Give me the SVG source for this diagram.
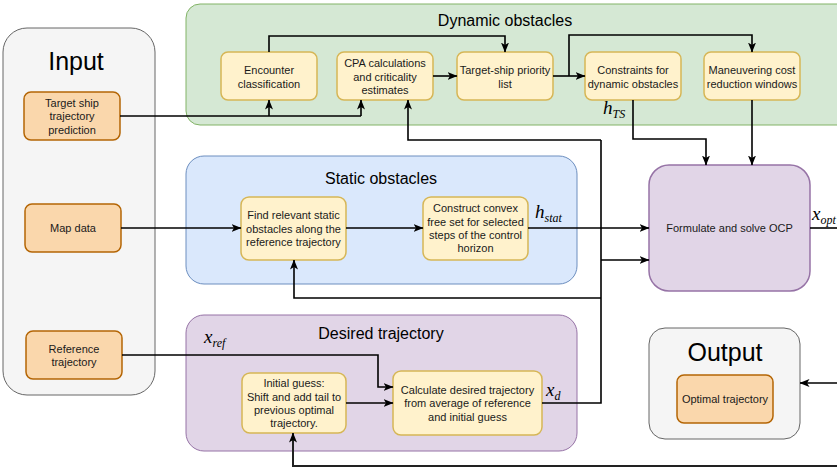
<svg xmlns="http://www.w3.org/2000/svg" width="837" height="470" viewBox="0 0 837 470">
  <defs>
    <style>
      .lbl { font-family: "Liberation Sans", Arial, sans-serif; font-size: 11px; fill: #1a1a1a; text-anchor: middle; dominant-baseline: central; }
      .title { font-family: "Liberation Sans", Arial, sans-serif; font-size: 16px; fill: #000; text-anchor: middle; dominant-baseline: central; }
      .big { font-family: "Liberation Sans", Arial, sans-serif; font-size: 25px; fill: #000; text-anchor: middle; dominant-baseline: central; }
      .math { font-family: "Liberation Serif", "DejaVu Serif", serif; font-style: italic; font-size: 19px; fill: #000; }
      .sub { font-size: 12px; }
      .proc { fill: #fff2cc; stroke: #d6b656; stroke-width: 1.5; }
      .io { fill: #fad7ac; stroke: #b46504; stroke-width: 1.5; }
      .wire { fill: none; stroke: #000; stroke-width: 1.6; }
      .arrow { fill: none; stroke: #000; stroke-width: 1.6; marker-end: url(#head); }
    </style>
    <marker id="head" viewBox="0 0 10 10" refX="9.5" refY="5" markerWidth="10" markerHeight="10" markerUnits="userSpaceOnUse" orient="auto">
      <path d="M0,1 L10,5 L0,9 L2.5,5 z" fill="#000"/>
    </marker>
  </defs>

  <!-- containers -->
  <g id="input">
    <rect x="3" y="28" width="152" height="367" rx="24" fill="#f5f5f5" stroke="#666" stroke-width="1"/>
    <text class="big" x="76" y="61">Input</text>
  </g>
  <g id="dynamic-obstacles">
    <rect x="186" y="4" width="668" height="121" rx="14" fill="#d5e8d4" stroke="#82b366" stroke-width="1"/>
    <text class="title" x="505" y="20">Dynamic obstacles</text>
  </g>
  <g id="static-obstacles">
    <rect x="186" y="156" width="391" height="128" rx="18" fill="#dae8fc" stroke="#6c8ebf" stroke-width="1"/>
    <text class="title" x="381" y="178">Static obstacles</text>
  </g>
  <g id="desired-trajectory">
    <rect x="186" y="315" width="391" height="136" rx="18" fill="#e1d5e7" stroke="#9673a6" stroke-width="1"/>
    <text class="title" x="381" y="333">Desired trajectory</text>
  </g>
  <g id="output">
    <rect x="649" y="328" width="151" height="111" rx="16" fill="#f5f5f5" stroke="#666" stroke-width="1"/>
    <text class="big" x="725" y="352">Output</text>
  </g>

  <!-- input nodes -->
  <g id="target-ship-prediction">
    <rect class="io" x="24" y="92" width="96" height="48" rx="7"/>
    <text class="lbl" x="72" y="103">Target ship</text>
    <text class="lbl" x="72" y="116">trajectory</text>
    <text class="lbl" x="72" y="130">prediction</text>
  </g>
  <g id="map-data">
    <rect class="io" x="25" y="204" width="96" height="48" rx="7"/>
    <text class="lbl" x="73" y="228">Map data</text>
  </g>
  <g id="reference-trajectory">
    <rect class="io" x="26" y="331" width="96" height="48" rx="7"/>
    <text class="lbl" x="74" y="349">Reference</text>
    <text class="lbl" x="74" y="362">trajectory</text>
  </g>

  <!-- dynamic obstacle nodes -->
  <g id="encounter-classification">
    <rect class="proc" x="221" y="52" width="96" height="48" rx="7"/>
    <text class="lbl" x="269" y="70">Encounter</text>
    <text class="lbl" x="269" y="84">classification</text>
  </g>
  <g id="cpa">
    <rect class="proc" x="337" y="52" width="96" height="48" rx="7"/>
    <text class="lbl" x="385" y="63">CPA calculations</text>
    <text class="lbl" x="385" y="77">and criticality</text>
    <text class="lbl" x="385" y="90">estimates</text>
  </g>
  <g id="priority-list">
    <rect class="proc" x="457" y="52" width="96" height="48" rx="7"/>
    <text class="lbl" x="505" y="70">Target-ship priority</text>
    <text class="lbl" x="505" y="84">list</text>
  </g>
  <g id="dynamic-constraints">
    <rect class="proc" x="585" y="52" width="96" height="48" rx="7"/>
    <text class="lbl" x="633" y="70">Constraints for</text>
    <text class="lbl" x="633" y="84">dynamic obstacles</text>
  </g>
  <g id="cost-windows">
    <rect class="proc" x="704" y="52" width="96" height="48" rx="7"/>
    <text class="lbl" x="752" y="70">Maneuvering cost</text>
    <text class="lbl" x="752" y="84">reduction windows</text>
  </g>

  <!-- static obstacle nodes -->
  <g id="find-static">
    <rect class="proc" x="241" y="197" width="105" height="63" rx="8"/>
    <text class="lbl" x="293.5" y="215">Find relevant static</text>
    <text class="lbl" x="293.5" y="229">obstacles along the</text>
    <text class="lbl" x="293.5" y="242">reference trajectory</text>
  </g>
  <g id="convex-set">
    <rect class="proc" x="423" y="197" width="105" height="63" rx="8"/>
    <text class="lbl" x="475.5" y="208">Construct convex</text>
    <text class="lbl" x="475.5" y="222">free set for selected</text>
    <text class="lbl" x="475.5" y="235">steps of the control</text>
    <text class="lbl" x="475.5" y="248">horizon</text>
  </g>

  <!-- desired trajectory nodes -->
  <g id="initial-guess">
    <rect class="proc" x="242" y="373" width="104" height="60" rx="8"/>
    <text class="lbl" x="294" y="383">Initial guess:</text>
    <text class="lbl" x="294" y="397">Shift and add tail to</text>
    <text class="lbl" x="294" y="410">previous optimal</text>
    <text class="lbl" x="294" y="423">trajectory.</text>
  </g>
  <g id="desired-calc">
    <rect class="proc" x="393" y="371" width="149" height="64" rx="8"/>
    <text class="lbl" x="467.5" y="390">Calculate desired trajectory</text>
    <text class="lbl" x="467.5" y="403">from average of reference</text>
    <text class="lbl" x="467.5" y="417">and initial guess</text>
  </g>

  <!-- solver and result -->
  <g id="ocp">
    <rect x="649" y="165" width="161" height="126" rx="20" fill="#e1d5e7" stroke="#9673a6" stroke-width="1.5"/>
    <text class="lbl" x="729.5" y="228">Formulate and solve OCP</text>
  </g>
  <g id="optimal-trajectory">
    <rect class="io" x="677" y="375" width="96" height="48" rx="7"/>
    <text class="lbl" x="725" y="399">Optimal trajectory</text>
  </g>

  <!-- connectors -->
  <g id="connectors">
    <!-- target ship prediction to encounter classification and CPA -->
    <path class="wire" d="M120,116 H361"/>
    <path class="arrow" d="M269,116 V100"/>
    <path class="arrow" d="M361,116 V100"/>
    <!-- inside dynamic obstacles -->
    <path class="arrow" d="M269,52 V36 H505 V52"/>
    <path class="arrow" d="M433,76 H457"/>
    <path class="arrow" d="M553,76 H585"/>
    <path class="arrow" d="M569,76 V35 H752 V52"/>
    <!-- dynamic outputs into OCP -->
    <path class="arrow" d="M633,100 V139 H706 V165"/>
    <path class="arrow" d="M752,100 V165"/>
    <!-- static obstacles chain -->
    <path class="arrow" d="M121,228 H241"/>
    <path class="arrow" d="M346,228 H423"/>
    <path class="arrow" d="M528,228 H649"/>
    <!-- desired trajectory -->
    <path class="arrow" d="M122,355 H378 V387 H393"/>
    <path class="arrow" d="M346,403 H393"/>
    <!-- x_d distribution -->
    <path class="wire" d="M542,403 H601 V140"/>
    <path class="arrow" d="M601,140 H408 V100"/>
    <path class="arrow" d="M601,298 H294 V260"/>
    <path class="arrow" d="M601,260 H649"/>
    <!-- optimal solution -->
    <path class="wire" d="M810,228 H837"/>
    <path class="arrow" d="M837,383 H800"/>
    <path class="arrow" d="M837,466 H293 V433" style="stroke:#222;stroke-width:2"/>
  </g>

  <!-- math labels -->
  <g id="math-labels">
    <text class="math" x="603" y="114">h<tspan class="sub" dy="4">TS</tspan></text>
    <text class="math" x="535" y="218">h<tspan class="sub" dy="4">stat</tspan></text>
    <text class="math" x="204" y="343">x<tspan class="sub" dy="4">ref</tspan></text>
    <text class="math" x="546" y="396">x<tspan class="sub" dy="4">d</tspan></text>
    <text class="math" x="812" y="220">x<tspan class="sub" dy="4">opt</tspan></text>
  </g>
</svg>
